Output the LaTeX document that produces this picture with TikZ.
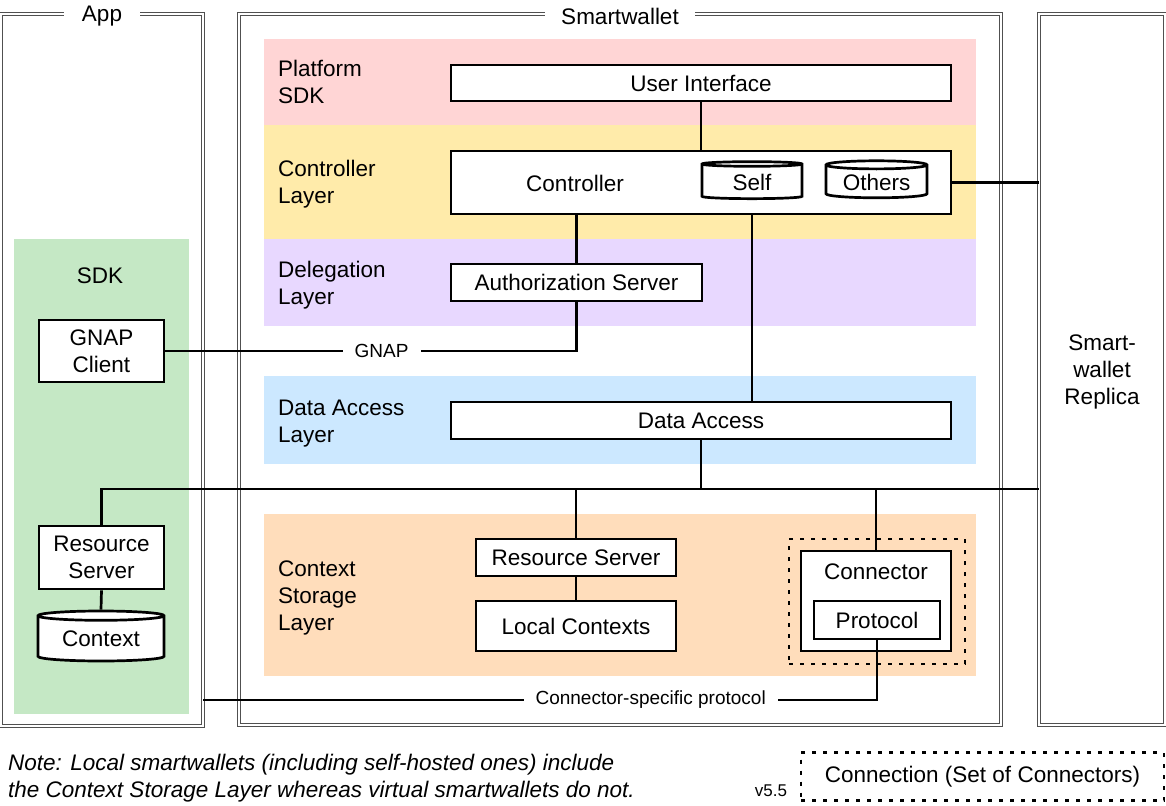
\documentclass[tikz,border=0pt]{standalone}
\usepackage{fontspec}
\setmainfont{Liberation Sans}
\usepackage{tikz}
\usetikzlibrary{calc}
\usetikzlibrary{shapes.geometric}

\definecolor{pinkL}{RGB}{255,213,213}
\definecolor{yellowL}{RGB}{255,235,170}
\definecolor{purpleL}{RGB}{232,216,255}
\definecolor{blueL}{RGB}{204,232,255}
\definecolor{orangeL}{RGB}{255,221,187}
\definecolor{greenL}{RGB}{197,232,197}
\definecolor{frameGray}{RGB}{80,80,80}

\begin{document}
\begin{tikzpicture}[x=1pt, y=-1pt,
    every node/.style={font=\fontsize{22.5}{27}\selectfont, inner sep=0pt},
    frame/.style={draw=frameGray, line width=0.9pt, double=white, double distance=1.6pt},
    box/.style={draw, line width=2.7pt, fill=white, align=center},
    db/.style={cylinder, shape border rotate=90, aspect=0.12, draw, line width=2.7pt, fill=white},
    wire/.style={line width=2.7pt},
    dotbox/.style={draw, line width=2.7pt, dash pattern=on 4pt off 7pt},
    lbl/.style={fill=white, inner xsep=12pt, inner ysep=3pt, font=\fontsize{19}{23}\selectfont},
    layer/.style={anchor=base west, align=left}]
        %GRID
        \useasboundingbox (0,0) rectangle (1166,805);
        %RAHMEN
        \node[frame, minimum width=202pt, minimum height=712pt] (app) at (102,370) {};
        \node[frame, minimum width=762pt, minimum height=711pt] (sw) at (620,369.5) {};
        \node[frame, minimum width=126pt, minimum height=711pt] (replica) at (1102,369.5) {};
        \node[align=center] (reptxt) at (1102,372) {Smart-\\wallet\\Replica};
        \node[fill=white, inner xsep=18pt, inner ysep=2pt] (apptitle) at ($(app.north)+(0,3)$) {App};
        \node[fill=white, inner xsep=16pt, inner ysep=2pt] (swtitle) at ($(sw.north)+(0,3)$) {Smartwallet};

        %LAPISAN
        \fill[pinkL] (264,39) rectangle (976,125);
        \fill[yellowL] (264,125) rectangle (976,239);
        \fill[purpleL] (264,239) rectangle (976,326);
        \fill[blueL] (264,376) rectangle (976,464);
        \fill[orangeL] (264,514) rectangle (976,676);
        \fill[greenL] (14,239) rectangle (189,714);

        \node[layer] (lplat) at (278,104) {Platform\\SDK};
        \node[layer] (lctrl) at (278,204) {Controller\\Layer};
        \node[layer] (ldel) at (278,304) {Delegation\\Layer};
        \node[layer] (lda) at (278,442) {Data Access\\Layer};
        \node[layer] (lcs) at (278,630) {Context\\Storage\\Layer};
        \node (lsdk) at (100,276) {SDK};

        %KOTAK
        \node[box, minimum width=500pt, minimum height=36pt] (ui) at (701,83) {User Interface};
        \node[box, minimum width=500pt, minimum height=63pt] (ctrl) at (701,182.5) {};
        \node (ctrltxt) at (575,183) {Controller};
        \node[db, minimum width=100pt, minimum height=37pt] (self) at (752,182) {Self};
        \node[db, minimum width=101pt, minimum height=37pt] (others) at (876.5,182) {Others};
        \node[box, minimum width=251pt, minimum height=37pt] (auth) at (576.5,282.5) {Authorization Server};
        \node[box, minimum width=500pt, minimum height=37pt] (da) at (701,420.5) {Data Access};
        \node[box, minimum width=200pt, minimum height=37pt] (rs) at (576,557.5) {Resource Server};
        \node[box, minimum width=200pt, minimum height=50pt] (lc) at (576,626) {Local Contexts};
        \node[dotbox, minimum width=176pt, minimum height=125pt] (connset) at (877,601.5) {};
        \node[box, minimum width=150pt, minimum height=100pt] (conn) at (876,601) {};
        \node (conntxt) at (876,572) {Connector};
        \node[box, minimum width=126pt, minimum height=38pt] (proto) at (877,620) {Protocol};
        \node[box, minimum width=125pt, minimum height=62pt] (gnap) at (101.5,351) {GNAP\\Client};
        \node[box, minimum width=125pt, minimum height=63pt] (ars) at (101.5,557.5) {Resource\\Server};
        \node[db, minimum width=126pt, minimum height=50pt] (ctx) at (101,639) {Context};

        %GARIS
        \coordinate (bus) at (0,489);
        \coordinate (csp) at (0,700);
        \draw[wire] (ui.south) -- (ctrl.north);
        \draw[wire] (ctrl.south -| auth.north) -- (auth.north);
        \draw[wire] (auth.south) |- node[lbl, pos=0.737] (gnaplbl) {GNAP} (gnap.east);
        \draw[wire] (ctrl.east) -- (ctrl.east -| replica.west);
        \draw[wire] (ctrl.south -| self) -- (da.north -| self);
        \draw[wire] (da.south) -- (da.south |- bus);
        \draw[wire] (ars.north) |- (bus -| replica.west);
        \draw[wire] (rs.north) -- (rs.north |- bus);
        \draw[wire] (conn.north) -- (conn.north |- bus);
        \draw[wire] (ars.south) -- (ctx.north);
        \draw[wire] (rs.south) -- (lc.north);
        \draw[wire] (proto.south) |- node[lbl, pos=0.668] (csplbl) {Connector-specific protocol} (csp -| app.east);

        %CATATAN
        \node[anchor=base west, align=left, font=\fontsize{22.5}{27}\selectfont\itshape] (note) at (8,797) {Note: Local smartwallets (including self-hosted ones) include\\the Context Storage Layer whereas virtual smartwallets do not.};
        \node[font=\fontsize{17}{20}\selectfont] (ver) at (771,791) {v5.5};
        \node[dotbox, minimum width=363pt, minimum height=48pt] (legend) at (982.5,776.5) {Connection (Set of Connectors)};
\end{tikzpicture}
\end{document}
